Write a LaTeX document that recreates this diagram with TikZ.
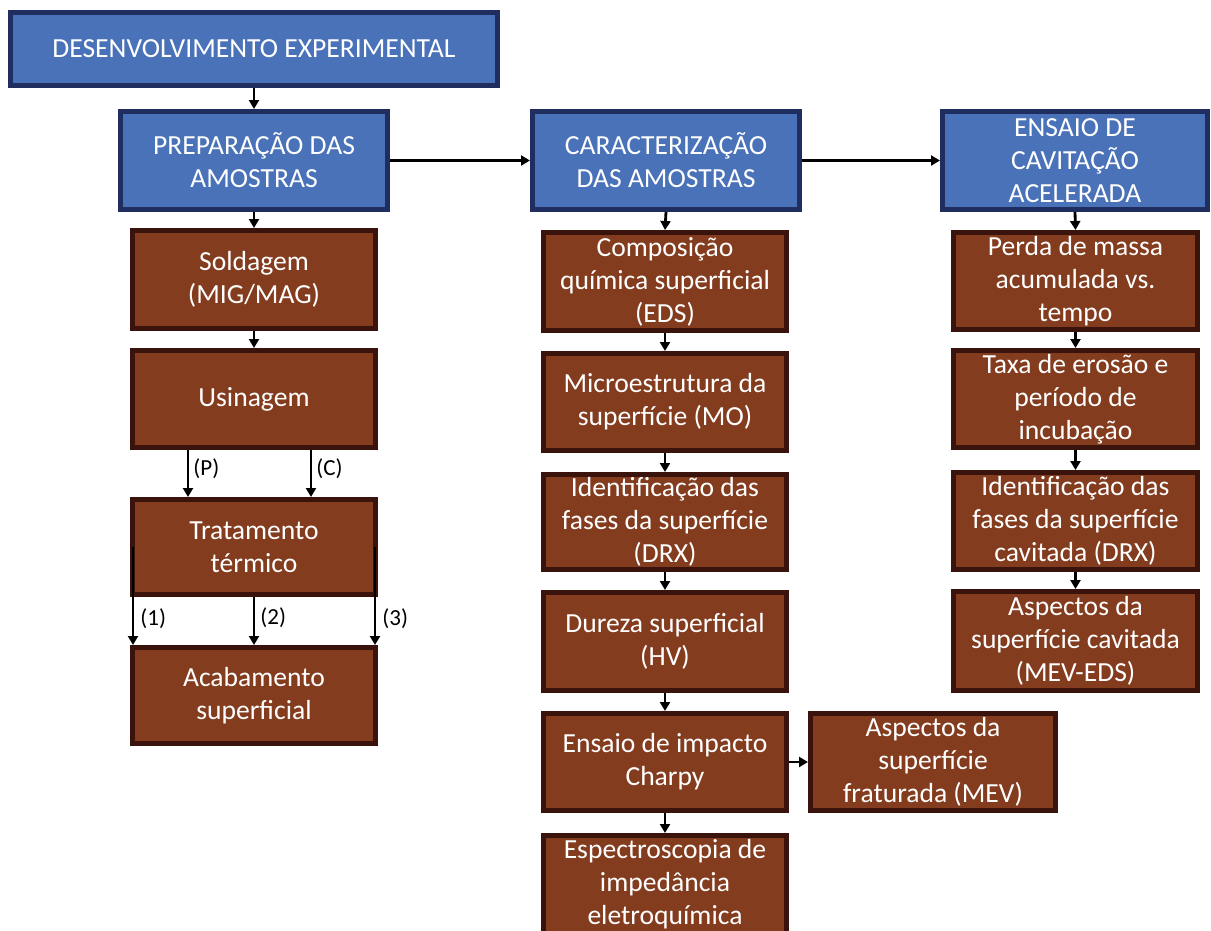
\documentclass[tikz,border=0pt]{standalone}
\usepackage{fontspec}
\setmainfont{Carlito}
\usetikzlibrary{arrows.meta}
\definecolor{bfill}{HTML}{4A72B9}
\definecolor{bline}{HTML}{1F2E5E}
\definecolor{rfill}{HTML}{843C1F}
\definecolor{rline}{HTML}{3A130C}
\tikzset{
  box/.style={rectangle, line width=5pt, text=white, align=center,
    font=\fontsize{27.6}{33}\selectfont, inner sep=0pt},
  bluebox/.style={box, draw=bline, fill=bfill},
  brownbox/.style={box, draw=rline, fill=rfill},
  arr/.style={line width=2.8pt, -{Triangle[length=9pt,width=10pt]}},
  lbl/.style={font=\fontsize{23}{27}\selectfont, inner sep=1pt, text=black}
}
\begin{document}
\begin{tikzpicture}[x=1pt,y=-1pt]
\useasboundingbox (0,0) rectangle (1211,930);
\fill[white] (0,0) rectangle (1211,930);
\clip (0,0) rectangle (1211,930);
% blue boxes
\node[bluebox, minimum width=487pt, minimum height=73pt] (d) at (254,49) {DESENVOLVIMENTO EXPERIMENTAL};
\node[bluebox, minimum width=267pt, minimum height=98pt] (p) at (254,160.5) {PREPARAÇÃO DAS\\AMOSTRAS};
\node[bluebox, minimum width=267pt, minimum height=98pt] (c) at (666,160.5) {CARACTERIZAÇÃO\\DAS AMOSTRAS};
\node[bluebox, minimum width=265pt, minimum height=98pt] (e) at (1075,160.5) {ENSAIO DE\\CAVITAÇÃO\\ACELERADA};
% left column
\node[brownbox, minimum width=243pt, minimum height=98pt] (sold) at (254,279.5) {Soldagem\\(MIG/MAG)};
\node[brownbox, minimum width=243pt, minimum height=97pt] (usin) at (254,399) {Usinagem};
\node[brownbox, minimum width=243pt, minimum height=95pt] (trat) at (254,547) {Tratamento\\térmico};
\node[brownbox, minimum width=243pt, minimum height=96pt] (acab) at (254,695.5) {Acabamento\\superficial};
% middle column
\node[brownbox, minimum width=243pt, minimum height=98pt] (comp) at (665,281.5) {Composição\\química superficial\\(EDS)};
\node[brownbox, minimum width=243pt, minimum height=97pt] (micro) at (665,402) {Microestrutura da\\superfície (MO)};
\node[brownbox, minimum width=243pt, minimum height=95pt] (ident) at (665,522) {Identificação das\\fases da superfície\\(DRX)};
\node[brownbox, minimum width=243pt, minimum height=98pt] (dur) at (665,641.5) {Dureza superficial\\(HV)};
\node[brownbox, minimum width=243pt, minimum height=97pt] (imp) at (665,762) {Ensaio de impacto\\Charpy};
\node[brownbox, minimum width=243pt, minimum height=98pt] (espec) at (665,884.5) {Espectroscopia de\\impedância\\eletroquímica};
\node[brownbox, minimum width=245pt, minimum height=97pt] (aspf) at (933,762) {Aspectos da\\superfície\\fraturada (MEV)};
% right column
\node[brownbox, minimum width=244pt, minimum height=97pt] (perda) at (1075.5,281) {Perda de massa\\acumulada vs.\\tempo};
\node[brownbox, minimum width=244pt, minimum height=97pt] (taxa) at (1075.5,399) {Taxa de erosão e\\período de\\incubação};
\node[brownbox, minimum width=244pt, minimum height=97pt] (identc) at (1075.5,521) {Identificação das\\fases da superfície\\cavitada (DRX)};
\node[brownbox, minimum width=244pt, minimum height=99pt] (aspc) at (1075.5,641) {Aspectos da\\superfície cavitada\\(MEV-EDS)};
% connectors
\draw[arr] (d.south) -- (p.north);
\draw[arr] (p.east) -- (c.west);
\draw[arr] (c.east) -- (e.west);
\draw[arr] (p.south) -- (sold.north);
\draw[arr] (sold.south) -- (usin.north);
\draw[arr] ([xshift=-66pt]usin.south) -- node[lbl, right=3pt, pos=0.4] (lp) {(P)} ([xshift=-66pt]trat.north);
\draw[arr] ([xshift=57pt]usin.south) -- node[lbl, right=3pt, pos=0.4] (lc) {(C)} ([xshift=57pt]trat.north);
\draw[arr] ([xshift=3pt]trat.west) -- node[lbl, right=5pt, pos=0.73] (l1) {(1)} ([xshift=3pt]trat.west |- acab.north);
\draw[arr] (trat.south) -- node[lbl, right=4pt, pos=0.44] (l2) {(2)} (acab.north);
\draw[arr] ([xshift=-3pt]trat.east) -- node[lbl, right=5pt, pos=0.73] (l3) {(3)} ([xshift=-3pt]trat.east |- acab.north);
\draw[arr] (c.south) -- (comp.north);
\draw[arr] (comp.south) -- (micro.north);
\draw[arr] (micro.south) -- (ident.north);
\draw[arr] (ident.south) -- (dur.north);
\draw[arr] (dur.south) -- (imp.north);
\draw[arr] (imp.south) -- (espec.north);
\draw[arr] (imp.east) -- (aspf.west);
\draw[arr] (e.south) -- (perda.north);
\draw[arr] (perda.south) -- (taxa.north);
\draw[arr] (taxa.south) -- (identc.north);
\draw[arr] (identc.south) -- (aspc.north);
\end{tikzpicture}
\end{document}
